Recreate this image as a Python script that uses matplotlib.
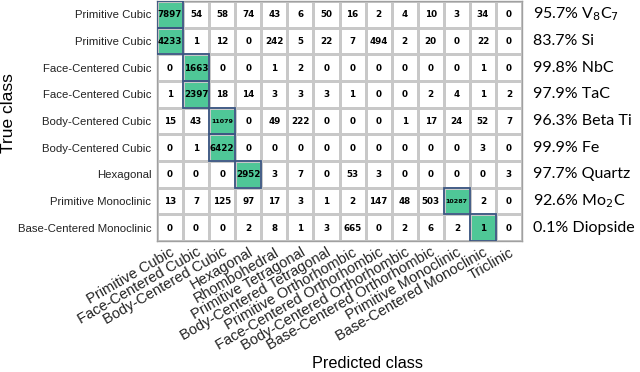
import numpy as np
import matplotlib
matplotlib.use('Agg')
import matplotlib.pyplot as plt
from matplotlib.colors import ListedColormap
from matplotlib.patches import Rectangle

pred_labels = ['Primitive Cubic', 'Face-Centered Cubic', 'Body-Centered Cubic', 'Hexagonal',
               'Rhombohedral', 'Primitive Tetragonal', 'Body-Centered Tetragonal',
               'Primitive Orthorhombic', 'Face-Centered Orthorhombic', 'Body-Centered Orthorhombic',
               'Base-Centered Orthorhombic', 'Primitive Monoclinic', 'Base-Centered Monoclinic',
               'Triclinic']
true_labels = ['Primitive Cubic', 'Primitive Cubic', 'Face-Centered Cubic', 'Face-Centered Cubic',
               'Body-Centered Cubic', 'Body-Centered Cubic', 'Hexagonal', 'Primitive Monoclinic',
               'Base-Centered Monoclinic']
materials = [r'95.7% V$_8$C$_7$', '83.7% Si', '99.8% NbC', '97.9% TaC', '96.3% Beta Ti',
             '99.9% Fe', '97.7% Quartz', r'92.6% Mo$_2$C', '0.1% Diopside']

counts = [
    [7897, 54, 58, 74, 43, 6, 50, 16, 2, 4, 10, 3, 34, 0],
    [4233, 1, 12, 0, 242, 5, 22, 7, 494, 2, 20, 0, 22, 0],
    [0, 1663, 0, 0, 1, 2, 0, 0, 0, 0, 0, 0, 1, 0],
    [1, 2397, 18, 14, 3, 3, 3, 1, 0, 0, 2, 4, 1, 2],
    [15, 43, 11079, 0, 49, 222, 0, 0, 0, 1, 17, 24, 52, 7],
    [0, 1, 6422, 0, 0, 0, 0, 0, 0, 0, 0, 0, 3, 0],
    [0, 0, 0, 2952, 3, 7, 0, 53, 3, 0, 0, 0, 0, 3],
    [13, 7, 125, 97, 17, 3, 1, 2, 147, 48, 503, 10287, 2, 0],
    [0, 0, 0, 2, 8, 1, 3, 665, 0, 2, 6, 2, 1, 0],
]
# column index of the correct class for each row
correct_col = [0, 0, 1, 1, 2, 2, 3, 11, 12]

data = np.array(counts)
nrow, ncol = data.shape
mask = np.zeros_like(data)
for r, c in enumerate(correct_col):
    mask[r, c] = 1

fig = plt.figure(figsize=(6.4, 3.72), dpi=100)
ax = fig.add_axes([157 / 640, 1 - 241 / 372, 365 / 640, 240 / 372])

cmap = ListedColormap(['white', '#4fc797'])
ax.pcolormesh(np.arange(ncol + 1), np.arange(nrow + 1), mask, cmap=cmap,
              edgecolors='#c8c8c8', linewidth=0.8)
ax.set_xlim(0, ncol)
ax.set_ylim(nrow, 0)

for r, c in enumerate(correct_col):
    ax.add_patch(Rectangle((c, r), 1, 1, fill=False, edgecolor='#3b5683', lw=1.3, zorder=3))

for r in range(nrow):
    for c in range(ncol):
        v = data[r, c]
        fs = 4.6 if v >= 10000 else 6.3
        ax.text(c + 0.5, r + 0.52, str(v), ha='center', va='center',
                fontsize=fs, fontweight='bold', color='black', family='DejaVu Sans')

for s in ax.spines.values():
    s.set_color('#a0a0a0')
    s.set_linewidth(1.0)

ax.set_xticks(np.arange(ncol) + 0.5)
ax.set_xticklabels(pred_labels, rotation=30, ha='right', rotation_mode='anchor',
                   fontsize=10.5, family='Liberation Sans', color='#222222')
ax.set_yticks(np.arange(nrow) + 0.5)
ax.set_yticklabels(true_labels, fontsize=8.2, family='Liberation Sans', color='#222222')
ax.tick_params(length=0, pad=4)
ax.tick_params(axis='x', pad=3)

for r, txt in enumerate(materials):
    ax.text(ncol + 0.42, r + 0.5, txt, ha='left', va='center', fontsize=11.5,
            family='Lato', color='black')

fig.text(367 / 640, 1 - 364 / 372, 'Predicted class', ha='center', va='center',
         fontsize=11.7, family='Liberation Sans')
fig.text(9 / 640, 1 - 113 / 372, 'True class', ha='center', va='center',
         rotation=90, fontsize=12.5, family='Liberation Sans')

fig.savefig('out.png', dpi=100)
